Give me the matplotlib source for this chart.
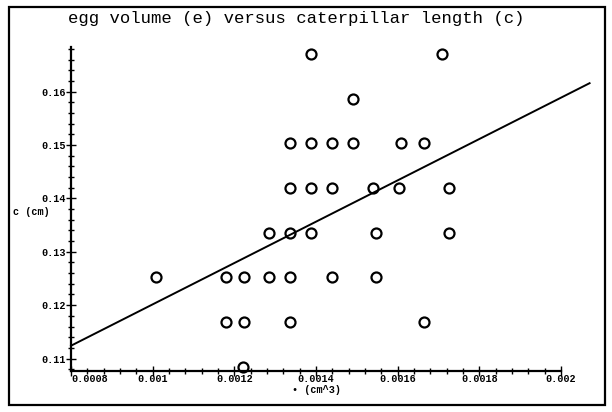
import matplotlib
matplotlib.use('Agg')
import matplotlib.pyplot as plt
from matplotlib.patches import Rectangle
from matplotlib.ticker import MultipleLocator, FixedLocator
import numpy as np

# egg volume (cm^3) and caterpillar length (cm)
egg = [0.001388, 0.001709,
       0.001491,
       0.001336, 0.001388, 0.001439, 0.001491, 0.001608, 0.001664,
       0.001336, 0.001388, 0.001439, 0.001540, 0.001603, 0.001726,
       0.001285, 0.001336, 0.001388, 0.001547, 0.001726,
       0.001007, 0.001180, 0.001224, 0.001285, 0.001336, 0.001439, 0.001547,
       0.001180, 0.001224, 0.001336, 0.001664,
       0.001222]
length = [0.1671, 0.1671,
          0.1587,
          0.1503, 0.1503, 0.1503, 0.1503, 0.1503, 0.1503,
          0.1420, 0.1420, 0.1420, 0.1420, 0.1420, 0.1420,
          0.1336, 0.1336, 0.1336, 0.1336, 0.1336,
          0.1252, 0.1252, 0.1252, 0.1252, 0.1252, 0.1252, 0.1252,
          0.1168, 0.1168, 0.1168, 0.1168,
          0.1085]

# fitted line end points
fit_e = [0.0008, 0.00207]
fit_c = [0.1124, 0.1616]

xticks = [0.0008, 0.001, 0.0012, 0.0014, 0.0016, 0.0018, 0.002]
xticklabels = ['0.0008', '0.001', '0.0012', '0.0014', '0.0016', '0.0018', '0.002']
yticks = [0.11, 0.12, 0.13, 0.14, 0.15, 0.16]
yticklabels = ['0.11', '0.12', '0.13', '0.14', '0.15', '0.16']

MONO = 'Liberation Mono'
TICKFS = 7.3

fig = plt.figure(figsize=(6.12, 4.12), dpi=100)
ax = fig.add_axes([71/612, 1 - 371/412, 490/612, (371 - 46.7)/412])

ax.plot(egg, length, 'o', mfc='none', mec='black', ms=7.2, mew=1.6, clip_on=False)
ax.plot(fit_e, fit_c, color='black', lw=1.4, clip_on=False)

ax.set_xlim(0.0008, 0.002)
ax.set_ylim(0.10766, 0.16844)

for s in ['top', 'right']:
    ax.spines[s].set_visible(False)
for s in ['left', 'bottom']:
    ax.spines[s].set_linewidth(1.6)

ax.xaxis.set_major_locator(FixedLocator(xticks))
ax.xaxis.set_minor_locator(MultipleLocator(0.00004))
ax.yaxis.set_major_locator(FixedLocator(yticks))
ax.yaxis.set_minor_locator(MultipleLocator(0.002))
ax.set_xticklabels(xticklabels, fontfamily=MONO, fontsize=TICKFS, fontweight='bold')
ax.set_yticklabels(yticklabels, fontfamily=MONO, fontsize=TICKFS, fontweight='bold')
ax.get_xticklabels()[0].set_horizontalalignment('left')

ax.tick_params(which='major', direction='inout', length=7.5, width=1.0)
ax.tick_params(axis='x', which='major', pad=-1.5)
ax.tick_params(axis='y', which='major', pad=0)
ax.tick_params(which='minor', direction='inout', length=4.5, width=1.0)

fig.text(316/612, 1 - 390/412, '\u2022 (cm^3)', fontfamily=MONO, fontsize=TICKFS,
         fontweight='bold', ha='center', va='center')
fig.text(13/612, 1 - 212/412, 'c (cm)', fontfamily=MONO, fontsize=TICKFS,
         fontweight='bold', ha='left', va='center')
fig.text(68/612, 1 - 19/412, 'egg volume (e) versus caterpillar length (c)',
         fontfamily=MONO, fontsize=12.4, ha='left', va='center')

# page frame
fig.patches.append(Rectangle((9/612, 1 - 405/412), 596/612, 398/412, fill=False,
                             ec='black', lw=1.6, transform=fig.transFigure))

fig.savefig('out.png', dpi=100)
